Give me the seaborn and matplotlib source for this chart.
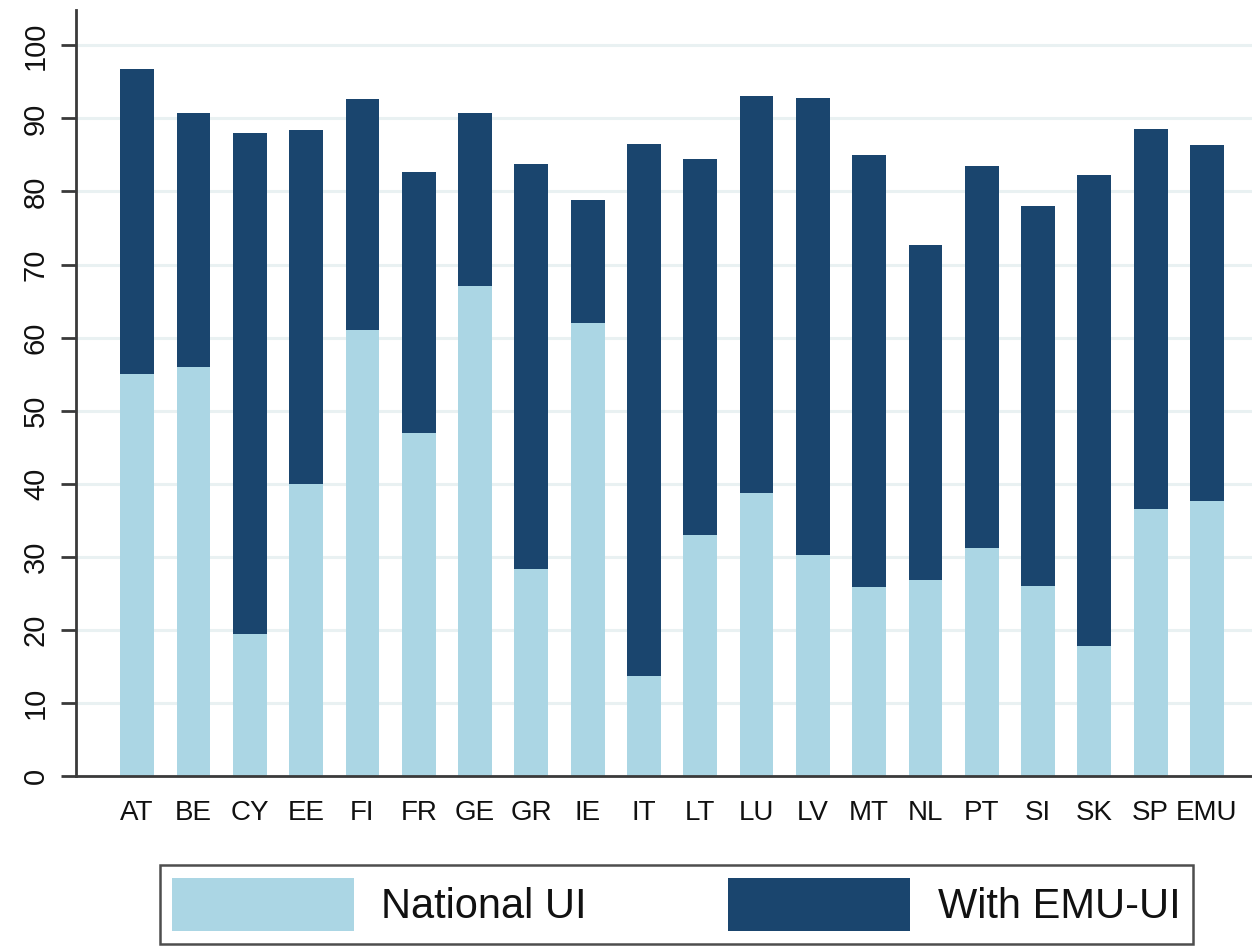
import matplotlib
matplotlib.use("Agg")
import matplotlib.pyplot as plt
import seaborn as sns
import pandas as pd
from matplotlib import font_manager

countries = ["AT", "BE", "CY", "EE", "FI", "FR", "GE", "GR", "IE", "IT",
             "LT", "LU", "LV", "MT", "NL", "PT", "SI", "SK", "SP", "EMU"]
national_ui = [55.0, 56.0, 19.5, 40.0, 61.0, 47.0, 67.0, 28.3, 62.0, 13.7,
               33.0, 38.8, 30.2, 25.8, 26.8, 31.2, 26.0, 17.8, 36.5, 37.6]
with_emu_ui = [96.7, 90.8, 88.0, 88.4, 92.7, 82.7, 90.7, 83.8, 78.8, 86.5,
               84.5, 93.0, 92.8, 85.0, 72.7, 83.5, 78.0, 82.2, 88.5, 86.3]
y_ticks = [0, 10, 20, 30, 40, 50, 60, 70, 80, 90, 100]
legend_labels = ["National UI", "With EMU-UI"]

LIGHT = "#abd6e4"
DARK = "#1a456e"
GRID = "#e9f1f2"
AXIS = "#3a3a3a"

sns.set_theme(style="white")
avail = {f.name for f in font_manager.fontManager.ttflist}
fam = ["Liberation Sans Narrow"] if "Liberation Sans Narrow" in avail else ["Liberation Sans"]
plt.rcParams["font.family"] = fam + ["DejaVu Sans"]

df = pd.DataFrame({"country": countries, "national": national_ui, "total": with_emu_ui})

fig = plt.figure(figsize=(12.52, 9.51), dpi=100)
ax = fig.add_axes([0.061, 0.184, 0.939, 0.806])

sns.barplot(data=df, x="country", y="total", color=DARK, width=0.6,
            saturation=1, ax=ax, label=legend_labels[1], zorder=3,
            linewidth=0, edgecolor=DARK)
sns.barplot(data=df, x="country", y="national", color=LIGHT, width=0.6,
            saturation=1, ax=ax, label=legend_labels[0], zorder=3,
            linewidth=0, edgecolor=LIGHT)

handles, labels = ax.get_legend_handles_labels()
if ax.get_legend() is not None:
    ax.get_legend().remove()

ax.set_xlim(-1.08, 19.8)
ax.set_ylim(0, 104.9)
ax.set_yticks(y_ticks)
ax.set_yticklabels([str(t) for t in y_ticks], rotation=90, va="center")
ax.set_xlabel("")
ax.set_ylabel("")

for t in y_ticks:
    ax.axhline(t, color=GRID, lw=2.2, zorder=1)

for s in ["top", "right"]:
    ax.spines[s].set_visible(False)
for s in ["left", "bottom"]:
    ax.spines[s].set_color(AXIS)
    ax.spines[s].set_linewidth(2.0)
    ax.spines[s].set_zorder(4)

ax.tick_params(axis="y", which="both", left=True, length=11, width=2.0,
               color=AXIS, labelsize=21, labelcolor="#111111", pad=8,
               direction="out")
ax.tick_params(axis="x", bottom=False, labelsize=20, labelcolor="#111111", pad=11)

order = [labels.index(legend_labels[0]), labels.index(legend_labels[1])]
leg = fig.legend([handles[i] for i in order], [labels[i] for i in order],
                 loc="upper center", bbox_to_anchor=(0.54, 0.0904),
                 borderaxespad=0.0,
                 ncol=2, fontsize=30, frameon=True, fancybox=False,
                 handlelength=4.37, handleheight=1.6, handletextpad=0.65,
                 columnspacing=3.4, borderpad=0.3,
                 labelcolor="#111111")
leg.get_frame().set_edgecolor("#222222")
leg.get_frame().set_linewidth(1.8)

fig.savefig("out.png", dpi=100, facecolor="white")
